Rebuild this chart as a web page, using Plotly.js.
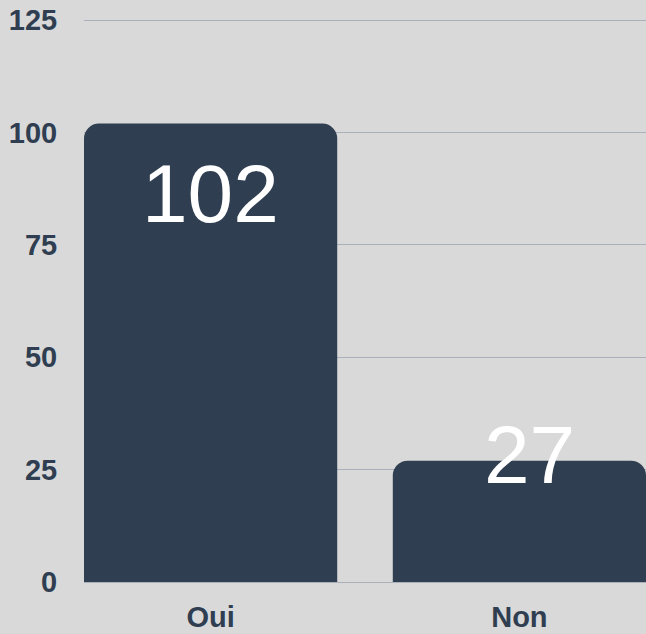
<!DOCTYPE html>
<html>
<head>
<meta charset="utf-8">
<script src="https://cdn.plot.ly/plotly-3.0.1.min.js"></script>
<style>
html,body{margin:0;padding:0;background:#d9d9d9;}
#chart{width:646px;height:634px;}
</style>
</head>
<body>
<div id="chart"></div>
<script>
var categories = ["Oui", "Non"];
var values = [102, 27];
var yTicks = [0, 25, 50, 75, 100, 125];

var navy = "#2f3e50";
var trace = {
  type: "bar",
  x: categories,
  y: values,
  width: 0.82,
  marker: {color: navy, cornerradius: 15, line: {width: 0}},
  hoverinfo: "skip"
};

var labelShifts = [{yanchor: "top", yshift: -22, xshift: 0}, {yanchor: "middle", yshift: 6, xshift: 10}];
var annotations = categories.map(function (c, i) {
  return {
    x: c, y: values[i], xref: "x", yref: "y",
    text: String(values[i]), showarrow: false,
    yanchor: labelShifts[i].yanchor, yshift: labelShifts[i].yshift, xshift: labelShifts[i].xshift,
    font: {family: "Liberation Sans Narrow, Arial Narrow, Liberation Sans, Arial, sans-serif", size: 82, color: "#ffffff"}
  };
});

var layout = {
  width: 646, height: 634,
  margin: {l: 84, r: 0, t: 19, b: 52},
  paper_bgcolor: "#d9d9d9",
  plot_bgcolor: "#d9d9d9",
  showlegend: false,
  xaxis: {
    range: [-0.41, 1.41],
    showgrid: false, zeroline: false, showline: false,
    ticks: "outside", ticklen: 9, tickcolor: "rgba(0,0,0,0)",
    tickfont: {family: "Liberation Sans, Arial, sans-serif", size: 29, color: navy, weight: "bold"},
    fixedrange: true
  },
  yaxis: {
    range: [0, 125.25],
    tickvals: yTicks,
    ticktext: yTicks.map(String),
    showgrid: true, gridcolor: "#aab0ba", gridwidth: 1,
    zeroline: true, zerolinecolor: "#aab0ba", zerolinewidth: 1,
    showline: false,
    ticks: "outside", ticklen: 20, tickcolor: "rgba(0,0,0,0)",
    tickfont: {family: "Liberation Sans, Arial, sans-serif", size: 29, color: navy, weight: "bold"},
    fixedrange: true
  },
  annotations: annotations
};

Plotly.newPlot("chart", [trace], layout, {displayModeBar: false, staticPlot: true});
</script>
</body>
</html>
